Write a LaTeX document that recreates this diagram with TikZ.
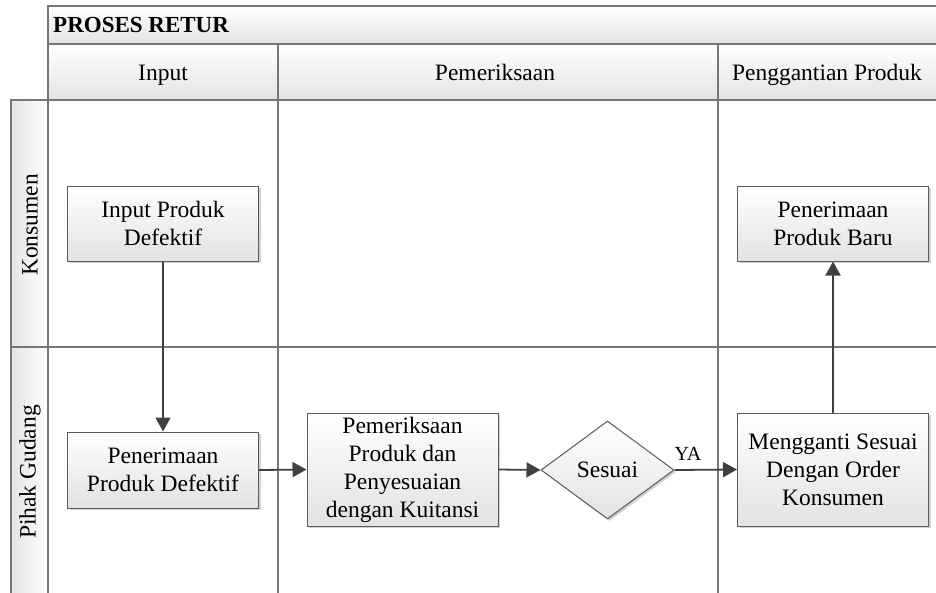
\documentclass[tikz,border=0pt]{standalone}
\usepackage{fontspec}
\setmainfont{Liberation Serif}
\usetikzlibrary{shapes.geometric,arrows.meta,shadows}
\definecolor{frameline}{HTML}{767676}
\definecolor{boxline}{HTML}{5A5A5A}
\definecolor{flowline}{HTML}{404040}
\definecolor{cellbot}{HTML}{E4E4E4}
\definecolor{boxbot}{HTML}{E2E2E2}
\tikzset{
  txt/.style={font=\fontsize{23.5}{28}\selectfont, text=black},
  headtxt/.style={txt, anchor=base, inner sep=0pt},
  headcell/.style={draw=frameline, line width=1.1pt, top color=white, bottom color=cellbot},
  lanecell/.style={draw=frameline, line width=1.1pt, left color=cellbot, right color=white},
  lanebody/.style={draw=frameline, line width=1.1pt, fill=white},
  procbox/.style={txt, draw=boxline, line width=1pt, top color=white, bottom color=boxbot,
    align=center, inner sep=0pt, minimum width=191pt,
    drop shadow={shadow xshift=2pt, shadow yshift=-2pt, fill=black, opacity=0.18}},
  decision/.style={txt, draw=boxline, line width=1pt, diamond, aspect=1.36, inner sep=0pt,
    minimum width=133pt, minimum height=98pt, top color=white, bottom color=boxbot,
    drop shadow={shadow xshift=2pt, shadow yshift=-2pt, fill=black, opacity=0.18}},
  flow/.style={draw=flowline, line width=1.8pt, -{Triangle[length=14pt,width=15pt]}}
}
\begin{document}
\begin{tikzpicture}[x=1pt, y=-1pt]
  \clip (0,0) rectangle (936,592);
  \fill[white] (0,0) rectangle (936,592);

  % pool header
  \draw[headcell] (48,6) rectangle (960,44);
  \node[headtxt, font=\fontsize{23}{28}\selectfont\bfseries, anchor=base west] (title) at (53,32) {PROSES RETUR};

  % phase headers
  \draw[headcell] (48,44) rectangle (278,100);
  \draw[headcell] (278,44) rectangle (718,100);
  \draw[headcell] (718,44) rectangle (960,100);
  \node[headtxt] (hInput) at (163,80) {Input};
  \node[headtxt] (hPeriksa) at (495,80) {Pemeriksaan};
  \node[headtxt] (hGanti) at (827,80) {Penggantian Produk};

  % lane bodies
  \draw[lanebody] (48,100) rectangle (278,347);
  \draw[lanebody] (278,100) rectangle (718,347);
  \draw[lanebody] (718,100) rectangle (960,347);
  \draw[lanebody] (48,347) rectangle (278,620);
  \draw[lanebody] (278,347) rectangle (718,620);
  \draw[lanebody] (718,347) rectangle (960,620);

  % lane labels
  \draw[lanecell] (11,100) rectangle (48,347);
  \draw[lanecell] (11,347) rectangle (48,620);
  \node[txt, rotate=90] (lKons) at (30,225) {Konsumen};
  \node[txt, rotate=90] (lGudang) at (30,472) {Pihak Gudang};

  % process steps
  \node[procbox, minimum height=75pt] (inputProduk) at (163,223.5) {Input Produk\\Defektif};
  \node[procbox, minimum height=76pt] (terimaDefektif) at (163,470) {Penerimaan\\Produk Defektif};
  \node[procbox, minimum height=113pt] (periksa) at (402.5,469.5) {Pemeriksaan\\Produk dan\\Penyesuaian\\dengan Kuitansi};
  \node[decision] (sesuai) at (607.5,470) {Sesuai};
  \node[procbox, minimum height=113pt] (ganti) at (833,469.5) {Mengganti Sesuai\\Dengan Order\\Konsumen};
  \node[procbox, minimum height=75pt] (terimaBaru) at (833,223.5) {Penerimaan\\Produk Baru};

  % flow
  \draw[flow] (inputProduk.south) -- (terimaDefektif.north);
  \draw[flow] (terimaDefektif.east) -- (periksa.west);
  \draw[flow] (periksa.east) -- (sesuai.west);
  \draw[flow] (sesuai.east) -- (ganti.west);
  \node[headtxt, font=\fontsize{20}{24}\selectfont] (ya) at (688,460) {YA};
  \draw[flow] (ganti.north) -- (terimaBaru.south);
\end{tikzpicture}
\end{document}
